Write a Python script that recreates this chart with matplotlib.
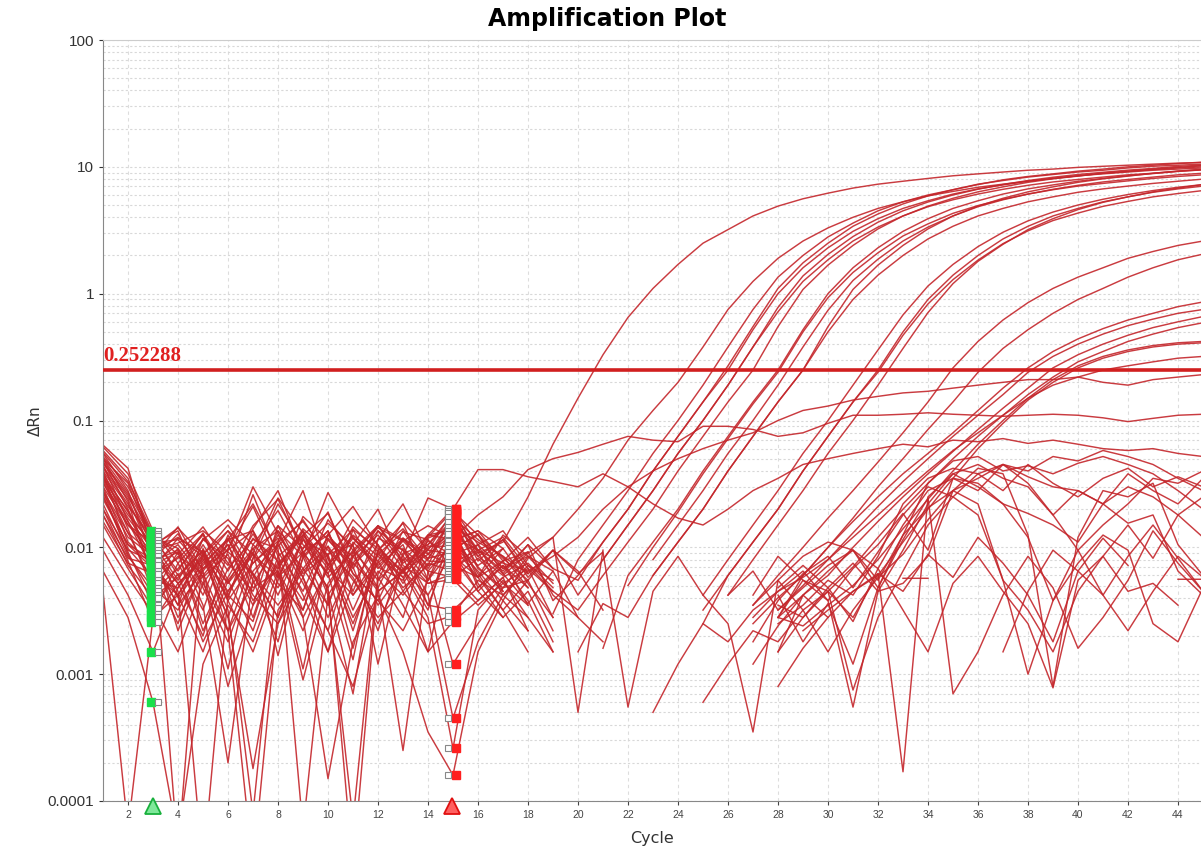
import matplotlib
matplotlib.use("Agg")
import matplotlib.pyplot as plt
from matplotlib.ticker import FixedLocator, LogLocator, NullFormatter

# dRn per well, cycles 1..45 (negative values are not drawn on the log axis)
cycles = list(range(1, 46))
threshold = 0.252288

w01 = [0.052, 0.03, 0.0125, 0.006, 0.0095, 0.004, 0.014, 0.028, 0.009, 0.0035, 0.011, 0.007, 0.0055, 0.012, 0.0195,
       0.009, 0.011, 0.025, 0.065,
       0.15, 0.33, 0.65, 1.1, 1.7, 2.5, 3.2, 4.1, 4.9, 5.6, 6.2, 6.8, 7.3, 7.7, 8.1, 8.5, 8.8, 9.1, 9.4, 9.6, 9.9, 10.1, 10.3, 10.5, 10.7, 10.8]
w02 = [0.04, 0.021, 0.0118, 0.0065, 0.013, 0.0042, 0.0026, 0.011, 0.016, 0.0085, 0.0016, 0.0095, 0.014, 0.008, 0.0178,
       0.0085, 0.006, 0.009, 0.012, 0.02,
       0.035, 0.07, 0.12, 0.2, 0.38, 0.75, 1.25, 1.9, 2.6, 3.3, 4.0, 4.7, 5.3, 5.9, 6.4, 6.9, 7.3, 7.7, 8.1, 8.5, 8.8, 9.1, 9.4, 9.6, 9.8]
w03 = [0.058, 0.035, 0.0112, 0.004, 0.0075, 0.0115, 0.006, 0.0028, 0.0125, 0.0185, 0.007, 0.0022, 0.009, 0.0105, 0.0165,
       0.007, 0.0045, -0.002, 0.003,
       0.008, 0.015, 0.028, 0.055, 0.1, 0.19, 0.38, 0.75, 1.35, 2.0, 2.8, 3.6, 4.5, 5.3, 6.0, 6.6, 7.3, 7.8, 8.3, 8.7, 9.1, 9.4, 9.8, 10.1, 10.3, 10.5]
w04 = [0.035, 0.018, 0.0105, 0.0135, 0.0048, 0.0018, 0.0065, 0.0105, 0.0042, 0.0015, 0.0085, 0.0125, 0.0068, 0.0032, 0.0155,
       0.0095, 0.0065, 0.0105, 0.0038,
       0.006, 0.011, 0.02, 0.04, 0.075, 0.14, 0.25, 0.52, 1.0, 1.6, 2.3, 3.1, 3.9, 4.7, 5.4, 6.1, 6.7, 7.2, 7.7, 8.1, 8.5, 8.9, 9.2, 9.5, 9.8, 10.0]
w05 = [0.047, 0.026, 0.0098, 0.0052, 0.002, 0.0095, 0.0135, 0.0062, 0.0022, 0.0072, 0.0165, 0.0105, 0.0045, 0.0082, 0.0148,
       0.011, 0.0085, 0.0062, 0.0095, 0.0042,
       0.008, 0.015, 0.028, 0.055, 0.1, 0.19, 0.38, 0.72, 1.25, 1.85, 2.6, 3.35, 4.1, 4.85, 5.5, 6.1, 6.65, 7.15, 7.6, 7.95, 8.3, 8.65, 8.9, 9.25, 9.45]
w06 = [0.064, 0.042, 0.0092, 0.012, 0.0085, 0.0045, 0.009, 0.0245, 0.013, 0.0058, 0.0092, 0.0035, 0.0065, 0.0125, 0.0138,
       0.0058, 0.0078, 0.012, 0.0068,
       0.0055, 0.011, 0.02, 0.04, 0.075, 0.14, 0.27, 0.55, 1.1, 1.75, 2.5, 3.4, 4.25, 5.1, 5.9, 6.6, 7.25, 7.9, 8.4, 8.8, 9.25, 9.6, 10.0, 10.3, 10.6, 10.9]
w07 = [0.028, 0.013, 0.0088, 0.0028, 0.006, 0.0105, 0.0038, 0.0075, 0.012, 0.0042, 0.00007, 0.0062, 0.0118, 0.0088, 0.0128,
       0.0062, 0.0032, 0.0055, -0.001, -0.002,
       0.008, 0.015, 0.028, 0.055, 0.1, 0.19, 0.38, 0.78, 1.38, 2.04, 2.82, 3.66, 4.5, 5.28, 6.0, 6.66, 7.26, 7.8, 8.28, 8.7, 9.06, 9.42, 9.72, 10.08, 10.3]
w08 = [0.043, 0.024, 0.0084, 0.0145, 0.0065, 0.0011, 0.0082, 0.0148, 0.0062, 0.0088, 0.0022, 0.0095, 0.0155, 0.0055, 0.0122,
       0.0095, 0.012, 0.0068, 0.0045, 0.0032,
       0.006, 0.011, 0.02, 0.04, 0.075, 0.14, 0.25, 0.55, 1.08, 1.68, 2.4, 3.24, 4.1, 4.9, 5.65, 6.35, 6.95, 7.55, 8.05, 8.45, 8.9, 9.25, 9.6, 9.9, 10.2]
w09 = [0.055, 0.028, 0.008, 0.0035, 0.0118, 0.0072, 0.026, 0.0085, 0.0032, 0.0115, 0.0068, 0.0148, 0.0078, 0.0125, 0.0115,
       0.0135, 0.0078, 0.0092, -0.003, -0.004, 0.0016,
       0.006, 0.011, 0.02, 0.04, 0.075, 0.14, 0.25, 0.52, 1.0, 1.6, 2.3, 3.1, 3.9, 4.7, 5.4, 6.1, 6.7, 7.2, 7.7, 8.1, 8.5, 8.85, 9.2, 9.5]
w10 = [0.032, 0.016, 0.0078, 0.0095, 0.0042, 0.0125, 0.0055, 0.0018, 0.0098, 0.0155, 0.0102, 0.0048, 0.00025, 0.0065, 0.0108,
       0.0072, 0.0098, 0.0052, 0.0028, -0.001, -0.002,
       0.005, 0.01, 0.019, 0.038, 0.072, 0.135, 0.24, 0.5, 0.93, 1.47, 2.1, 2.85, 3.55, 4.3, 4.95, 5.55, 6.1, 6.6, 7.05, 7.4, 7.75, 8.1, 8.4, 8.65]
w11 = [0.048, 0.02, 0.0075, 0.0105, 0.0058, 0.0088, 0.0028, 0.0112, 0.028, 0.0072, 0.0125, 0.0085, 0.0058, 0.0102, 0.0102,
       0.0058, 0.0125, 0.0085, 0.0065, -0.002, -0.003, -0.001,
       0.008, 0.015, 0.028, 0.055, 0.1, 0.19, 0.38, 0.74, 1.27, 1.87, 2.6, 3.35, 4.1, 4.85, 5.5, 6.1, 6.65, 7.15, 7.6, 7.95, 8.3, 8.65, 8.9]
w12 = [0.038, 0.011, 0.0072, 0.0042, 0.0015, 0.0055, 0.0098, 0.0042, 0.0115, 0.0062, 0.0013, 0.0118, 0.0095, 0.0042, 0.0095,
       0.0128, 0.0062, 0.0036, 0.0065, 0.0028, 0.0018, -0.002,
       0.006, 0.011, 0.02, 0.04, 0.075, 0.14, 0.25, 0.55, 1.08, 1.68, 2.4, 3.24, 4.1, 4.9, 5.65, 6.35, 6.95, 7.55, 8.05, 8.45, 8.9, 9.25, 9.6]
w13 = [0.025, 0.0105, 0.0068, 0.0118, 0.0092, 0.0032, 0.00008, 0.0068, 0.014, 0.0095, 0.0058, 0.0025, 0.0068, 0.0095, 0.0088,
       0.0105, 0.0045, -0.001, -0.002, 0.0015, 0.0036, 0.0028,
       0.006, 0.011, 0.02, 0.04, 0.075, 0.14, 0.25, 0.5, 0.9, 1.4, 2.0, 2.7, 3.4, 4.1, 4.7, 5.3, 5.8, 6.3, 6.7, 7.05, 7.4, 7.7, 8.0]
w14 = [0.045, 0.016, 0.0065, 0.0025, 0.0088, 0.015, 0.0075, 0.0118, 0.0052, 0.0022, 0.0092, 0.0142, 0.0112, 0.0072, 0.0082,
       0.0045, 0.0028, -0.001, -0.002, -0.003, -0.002, -0.002, -0.001, -0.001, 0.0042,
       0.008, 0.015, 0.028, 0.055, 0.1, 0.19, 0.36, 0.68, 1.15, 1.7, 2.35, 3.05, 3.75, 4.4, 5.0, 5.55, 6.05, 6.5, 6.9, 7.25]
w15 = [0.036, 0.0195, 0.0062, 0.0082, 0.0128, 0.0065, 0.0148, 0.024, 0.0092, 0.0125, 0.0075, 0.0048, 0.0118, 0.0078, 0.0076,
       0.0095, 0.0062, 0.0105, 0.0068, -0.002, -0.003, -0.001, -0.002, -0.001, 0.0032,
       0.006, 0.011, 0.02, 0.04, 0.075, 0.14, 0.25, 0.5, 0.9, 1.4, 2.0, 2.7, 3.4, 4.1, 4.7, 5.3, 5.8, 6.3, 6.7, 7.05]
w16 = [0.03, 0.0098, 0.0058, 0.0098, 0.0035, 0.0002, 0.0058, 0.0125, 0.0068, 0.0035, 0.0138, 0.0098, 0.0065, 0.0088, 0.0072,
       0.0058, 0.0098, -0.001, -0.003, -0.002, -0.001, -0.002, -0.002, -0.001, 0.0025,
       0.006, 0.011, 0.02, 0.04, 0.075, 0.14, 0.24, 0.47, 0.83, 1.29, 1.84, 2.48, 3.13, 3.77, 4.32, 4.88, 5.34, 5.8, 6.16, 6.5]
w17 = [0.05, 0.023, 0.0055, 0.0048, 0.0105, 0.0052, 0.0092, 0.0014, 0.0085, 0.0135, 0.0042, 0.0088, 0.0132, 0.0115, 0.0068,
       0.0092, 0.0042, 0.0072, 0.0055, -0.001, -0.002, -0.002, -0.001, -0.001, -0.001, 0.0042,
       0.008, 0.015, 0.028, 0.055, 0.1, 0.19, 0.37, 0.71, 1.2, 1.8, 2.45, 3.2, 3.9, 4.6, 5.25, 5.8, 6.35, 6.8, 7.25]
w18 = [0.033, 0.013, 0.0052, 0.0085, 0.0062, 0.0022, 0.0052, 0.0102, 0.0165, 0.0082, 0.0028, 0.0065, 0.0042, 0.0075, 0.0065,
       0.0105, 0.0068, 0.0085, -0.001, -0.002, -0.003, -0.003, -0.002, -0.001, -0.001, -0.001, 0.0035,
       0.006, 0.01, 0.017, 0.028, 0.047, 0.08, 0.14, 0.26, 0.42, 0.62, 0.85, 1.1, 1.35, 1.6, 1.9, 2.15, 2.4, 2.6]
w19 = [0.022, 0.0085, 0.0048, 0.0032, 0.0072, 0.0118, 0.0048, 0.0065, 0.0009, 0.0052, 0.0095, 0.0148, 0.0085, 0.0052, 0.0062,
       0.0038, 0.0058, 0.0075, 0.0048, -0.001, -0.002, -0.004, -0.003, -0.002, -0.001, -0.001, -0.001, 0.0028,
       0.006, 0.01, 0.017, 0.03, 0.05, 0.085, 0.14, 0.24, 0.37, 0.52, 0.7, 0.9, 1.1, 1.35, 1.6, 1.85, 2.05]
w20 = [0.04, 0.014, 0.0045, 0.0068, 0.0115, 0.0082, 0.0035, 0.0148, 0.0098, 0.019, 0.0062, 0.0038, 0.0098, 0.0065, 0.0058,
       0.0082, 0.0052, 0.0035, -0.001, -0.002, -0.003, -0.002, -0.001, -0.001, -0.001, -0.001, 0.0025,
       0.004, 0.006, 0.01, 0.016, 0.025, 0.038, 0.055, 0.08, 0.12, 0.18, 0.26, 0.35, 0.44, 0.53, 0.62, 0.7, 0.79, 0.86]
w21 = [0.028, 0.0088, 0.0042, 0.0092, 0.0022, 0.0058, 0.0128, 0.0058, 0.0092, 0.0048, 0.0105, 0.02, 0.0072, 0.0052, 0.0056,
       0.0035, 0.0052, 0.0068, 0.0028, -0.001, -0.002, -0.002, -0.001, -0.001, -0.001, -0.001, -0.001, 0.0032,
       0.005, 0.008, 0.013, 0.021, 0.033, 0.05, 0.075, 0.11, 0.16, 0.24, 0.32, 0.4, 0.48, 0.56, 0.63, 0.7, 0.75]
w22 = [0.018, 0.0072, 0.004, 0.0058, 0.0095, 0.0038, 0.0075, 0.0112, 0.0028, 0.0068, 0.0118, 0.0072, 0.0105, 0.0035, 0.0032,
       0.0048, 0.0072, 0.0038, 0.0015, -0.001, -0.002, -0.003, -0.002, -0.001, -0.001, -0.002, -0.001, 0.0028, 0.0042,
       0.006, 0.01, 0.016, 0.025, 0.038, 0.057, 0.085, 0.125, 0.18, 0.26, 0.33, 0.4, 0.47, 0.54, 0.6, 0.66]
w23 = [0.026, 0.0092, 0.0035, 0.0015, 0.0052, 0.0098, 0.021, 0.0075, 0.0038, 0.0102, 0.0055, 0.0028, 0.0045, 0.0025, 0.0029,
       0.0055, 0.0042, 0.0065, -0.001, -0.002, -0.002, -0.003, -0.002, -0.001, 0.0006, 0.0012, 0.0022, 0.0018, 0.0032, 0.0045,
       0.007, 0.012, 0.02, 0.032, 0.05, 0.075, 0.11, 0.16, 0.22, 0.29, 0.35, 0.42, 0.48, 0.54, 0.59]
w24 = [0.015, 0.0068, 0.0033, 0.0062, 0.0018, 0.0045, 0.0088, 0.0058, 0.0135, 0.0045, 0.0007, 0.0095, 0.0058, 0.0015, 0.0026,
       0.0038, 0.0058, 0.0022, -0.001, -0.002, -0.003, -0.002, -0.001, -0.001, -0.001, -0.002, -0.001, 0.0028, 0.0024, 0.0035,
       0.005, 0.008, 0.014, 0.024, 0.04, 0.065, 0.1, 0.15, 0.21, 0.27, 0.32, 0.36, 0.39, 0.41, 0.42]
w25 = [0.012, 0.0058, 0.003, 0.0075, 0.0125, 0.0055, 0.0022, 0.0085, 0.0125, 0.0068, 0.0042, 0.0075, 0.0118, 0.0065, 0.0012,
       0.0025, 0.0048, 0.0055, 0.0022, -0.001, -0.002, -0.002, -0.001, -0.001, -0.001, -0.002, -0.001, -0.001, 0.0022, 0.0032, 0.0045,
       0.006, 0.011, 0.02, 0.035, 0.06, 0.095, 0.145, 0.2, 0.26, 0.31, 0.35, 0.38, 0.4, 0.41]
w26 = [0.0045, 0.00006, 0.0028, 0.0042, 0.0088, 0.0135, 0.0062, 0.0035, 0.0068, 0.0118, 0.0085, 0.0045, 0.0065, 0.0042, 0.00045,
       0.0018, 0.0042, 0.0028, 0.0015, -0.001, -0.002, -0.001, 0.0005, 0.0012, 0.0025, 0.0018, 0.0032, 0.0045, 0.0058,
       0.008, 0.012, 0.018, 0.027, 0.04, 0.058, 0.08, 0.11, 0.15, 0.19, 0.22, 0.25, 0.27, 0.29, 0.31, 0.32]
w27 = [0.02, 0.0078, 0.0026, 0.0052, 0.0082, 0.0028, 0.0105, 0.0195, 0.0085, 0.0028, 0.0075, 0.0135, 0.0075, 0.0105, 0.0185,
       0.0095, 0.0075, 0.0065, 0.0085, 0.012, 0.02, 0.03, 0.04, 0.05, 0.06, 0.07, 0.08, 0.1, 0.12, 0.13,
       0.145, 0.155, 0.165, 0.17, 0.18, 0.19, 0.2, 0.21, 0.21, 0.22, 0.2, 0.19, 0.21, 0.22, 0.23]
w28 = [0.034, 0.015, 0.0108, 0.0055, 0.0115, 0.0165, 0.0105, 0.0068, 0.0135, 0.0072, 0.0122, 0.0068, 0.0112, 0.0148, 0.0118,
       0.018, 0.025, 0.041, 0.05, 0.056, 0.065, 0.075, 0.07, 0.068, 0.09, 0.09, 0.085, 0.075, 0.08, 0.095,
       0.11, 0.11, 0.112, 0.115, 0.112, 0.11, 0.108, 0.11, 0.112, 0.11, 0.105, 0.098, 0.104, 0.11, 0.112]
w29 = [0.05, 0.032, 0.0102, 0.0022, 0.0068, 0.0095, 0.03, 0.0128, 0.0058, 0.0165, 0.0095, 0.0055, 0.0085, 0.0245, 0.02,
       0.041, 0.041, 0.036, 0.033, 0.03, 0.038, 0.03, 0.022, 0.017, 0.015, 0.02, 0.028, 0.035, 0.045, 0.05,
       0.055, 0.06, 0.065, 0.062, 0.07, 0.068, 0.072, 0.066, 0.07, 0.065, 0.06, 0.058, 0.06, 0.055, 0.052]
w30 = [0.062, 0.038, 0.0135, 0.0075, 0.0032, 0.0115, 0.022, 0.0092, 0.0045, 0.0125, 0.021, 0.0102, 0.0062, 0.0125, 0.0202,
       0.0105, 0.0135, 0.0072, 0.0045, -0.002, -0.003, -0.004, -0.003, -0.002, -0.001, -0.001, -0.001, 0.0025, 0.0035, 0.0055,
       0.0042, 0.0085, 0.022, 0.035, 0.042, 0.038, 0.045, 0.036, 0.03, 0.028, 0.022, 0.03, 0.025, 0.018, 0.012]
w31 = [0.056, 0.033, 0.0128, 0.0088, 0.0145, 0.0075, 0.0045, 0.0135, 0.0085, 0.027, 0.0118, 0.0078, 0.0158, 0.0095, 0.0192,
       0.0125, 0.0068, 0.0092, 0.0042, 0.0028, -0.001, -0.002, -0.003, -0.002, -0.001, -0.001, -0.001, 0.0015, 0.0028, 0.0048,
       0.0026, 0.0068, 0.015, 0.028, 0.035, 0.032, 0.022, 0.012, 0.0038, 0.0095, 0.015, 0.022, 0.035, 0.032, 0.04]
w32 = [0.05, 0.027, 0.0122, 0.0098, 0.0052, 0.0022, 0.0082, 0.022, 0.0105, 0.0062, 0.0145, 0.0092, 0.0048, 0.0072, 0.0185,
       0.0078, 0.0115, 0.0058, 0.0095, 0.0065, 0.0032, -0.001, -0.002, -0.003, -0.002, -0.001, 0.0012, 0.0024, 0.0042, 0.0065,
       0.0095, 0.0055, 0.0125, 0.032, 0.048, 0.052, 0.04, 0.044, 0.038, 0.046, 0.052, 0.045, 0.038, 0.028, 0.02]
w33 = [0.046, 0.025, 0.0115, 0.00004, 0.0098, 0.0038, 0.0015, 0.0055, 0.0175, 0.0115, 0.0072, 0.0115, 0.022, 0.0088, 0.0172,
       0.0115, 0.0085, 0.0048, -0.001, -0.002, -0.003, -0.002, -0.001, -0.001, -0.001, -0.001, 0.0028, 0.0045, 0.0065, 0.0038,
       0.00055, 0.0045, 0.0095, 0.022, 0.038, 0.045, 0.035, 0.03, 0.018, 0.0095, 0.0042, 0.0085, 0.015, 0.0082, 0.0045]
w34 = [0.042, 0.022, 0.0108, 0.0115, 0.0068, 0.0105, 0.0042, 0.0025, 0.0082, 0.0135, 0.0045, 0.0135, 0.0095, 0.0055, 0.0158,
       0.0068, 0.0048, 0.0085, 0.0052, -0.001, -0.002, -0.003, -0.003, -0.002, -0.001, -0.001, -0.001, 0.0048, 0.0072, 0.0048,
       0.0075, 0.0045, 0.0052, 0.0085, 0.028, 0.042, 0.038, 0.0125, 0.0008, 0.012, 0.028, 0.025, 0.032, 0.0105, 0.006]
w35 = [0.038, 0.019, 0.0102, 0.0142, 0.0088, 0.0052, 0.0118, 0.0078, 0.0011, 0.0088, 0.0138, 0.0058, 0.0028, 0.0118, 0.0145,
       0.0048, 0.0078, 0.0035, -0.001, -0.002, -0.004, -0.005, -0.004, -0.003, -0.002, -0.002, -0.001, 0.0008, 0.0016, 0.0028,
       -0.001, -0.002, 0.0057, 0.0057, -0.001, -0.002, 0.0015, 0.0045, 0.0095, 0.0065, 0.0118, 0.0072, -0.001, 0.0056, 0.0056]
w36 = [0.035, 0.017, 0.0095, 0.0108, 0.0135, 0.0092, 0.0062, 0.0028, 0.0092, 0.0048, 0.00003, 0.0055, 0.0135, 0.0068, 0.0135,
       0.0085, 0.0115, 0.0062, -0.001, -0.002, -0.002, -0.001, -0.001, -0.001, -0.001, -0.001, 0.0018, 0.0038, 0.0062, 0.0085,
       0.0048, 0.0092, 0.018, 0.03, 0.025, 0.038, 0.028, 0.045, 0.032, 0.025, 0.035, 0.042, 0.03, 0.036, 0.03]
w37 = [0.03, 0.015, 0.009, 0.0045, 0.00003, 0.0042, 0.0098, 0.0135, 0.0058, 0.0015, 0.0052, 0.0105, 0.0052, 0.0098, 0.0128,
       0.0052, 0.0028, 0.0045, 0.0018, -0.001, -0.003, -0.004, -0.003, -0.002, -0.001, -0.001, -0.001, 0.0035, 0.0028, 0.0045,
       0.00075, 0.0028, 0.0065, 0.015, 0.025, 0.018, 0.0055, 0.0032, 0.0015, 0.0045, 0.0085, 0.015, 0.0082, 0.018, 0.025]
w38 = [0.027, 0.012, 0.0085, 0.0052, 0.0078, 0.0135, 0.0088, 0.0048, 0.0115, 0.0088, 0.0105, 0.0012, 0.0082, 0.0035, 0.0112,
       0.0135, 0.0098, -0.001, -0.002, -0.003, -0.003, -0.002, -0.001, -0.001, -0.001, -0.001, 0.0035, 0.0055, 0.0085, 0.011,
       0.0095, 0.0068, 0.0032, 0.0015, 0.0052, 0.0085, 0.0045, 0.0025, 0.00078, 0.0055, 0.0085, 0.0045, 0.0052, 0.0035, -0.001]
w39 = [0.024, 0.0105, 0.008, 0.0128, 0.0058, 0.0008, 0.0035, 0.0072, 0.0125, 0.0075, 0.0025, 0.0078, 0.0035, 0.0015, 0.0105,
       0.0065, 0.0038, 0.0082, 0.012, 0.0005, 0.0095, -0.001, -0.002, -0.002, -0.001, -0.001, -0.001, 0.0015, 0.0042, 0.0028,
       0.0045, 0.0062, 0.00017, 0.025, 0.038, 0.03, 0.022, 0.0185, 0.015, 0.011, 0.022, 0.0155, 0.018, 0.0065, 0.0042]
w40 = [0.02, 0.0095, 0.0078, 0.0035, 0.0065, 0.0115, 0.0135, 0.0052, 0.0032, 0.0128, 0.0062, 0.0038, 0.0022, 0.0055, 0.0098,
       0.0125, 0.0082, 0.0055, 0.0095, 0.0062, 0.0092, 0.00055, 0.0045, 0.0085, 0.0042, 0.0025, 0.00035, 0.0055, 0.0032, 0.0015,
       0.0032, 0.0058, 0.0088, 0.0165, 0.028, 0.022, 0.0055, 0.001, 0.0038, 0.0075, 0.0125, 0.0095, 0.0025, 0.0018, 0.0048]
w41 = [0.018, 0.0082, 0.0072, 0.0092, 0.0025, 0.0068, 0.0115, 0.0098, 0.00006, 0.0042, 0.0085, 0.0148, 0.0115, 0.0082, 0.0092,
       0.0045, 0.0072, 0.0048, -0.001, -0.002, -0.003, -0.003, -0.002, -0.001, -0.001, -0.001, -0.001, 0.0042, 0.0018, 0.0036,
       0.0012, 0.0048, 0.0115, 0.0245, 0.0007, 0.0015, 0.0042, 0.0085, 0.0048, 0.0016, 0.0028, 0.0055, 0.0135, 0.0075, 0.0045]
w42 = [0.016, 0.0075, 0.0062, 0.0042, 0.0095, 0.0022, 0.00003, 0.0032, 0.0065, 0.0102, 0.0032, 0.0088, 0.0065, 0.0112, 0.0086,
       0.0058, 0.0032, 0.0015, -0.001, -0.002, -0.002, -0.001, -0.001, -0.001, -0.001, 0.0042, 0.0065, 0.0032, 0.0048, 0.0072,
       0.0095, 0.0048, 0.0125, 0.0205, 0.028, 0.035, 0.045, 0.04, 0.052, 0.048, 0.058, 0.052, 0.045, 0.035, 0.028]
w43 = [0.0095, 0.0042, 0.0015, 0.0048, 0.0088, 0.0028, 0.00018, 0.0025, 0.0058, 0.0022, 0.0008, 0.0045, 0.0065, 0.0028, 0.00026,
       0.0032, 0.0055, 0.0028, -0.001, -0.002, -0.002, -0.001, -0.001, -0.001, -0.001, -0.001, 0.0042, 0.0085, 0.0055, 0.0038,
       0.0068, 0.0105, 0.0185, 0.0095, 0.035, 0.028, 0.045, 0.032, 0.018, 0.028, 0.022, 0.038, 0.028, 0.022, 0.035]
w44 = [0.0065, 0.0028, 0.0006, 0.00005, 0.0012, 0.0035, 0.0018, 0.0065, 0.0028, 0.00015, 0.0018, 0.0042, 0.0015, 0.00035, 0.00016,
       0.0015, 0.0038, 0.0022, -0.001, -0.002, -0.003, -0.002, -0.001, -0.001, -0.001, -0.001, -0.001, 0.0028, 0.0055, 0.0045,
       0.0028, 0.0062, 0.0045, 0.0088, 0.0058, 0.012, 0.0075, 0.0042, 0.0018, 0.0065, 0.0042, 0.0022, 0.0045, 0.0085, 0.0058]

wells = [w01, w02, w03, w04, w05, w06, w07, w08, w09, w10, w11, w12, w13, w14, w15,
         w16, w17, w18, w19, w20, w21, w22, w23, w24, w25, w26, w27, w28, w29, w30,
         w31, w32, w33, w34, w35, w36, w37, w38, w39, w40, w41, w42, w43, w44]

baseline_start = 3
baseline_end = 15

y_ticks = [0.0001, 0.001, 0.01, 0.1, 1, 10, 100]
y_labels = ["0.0001", "0.001", "0.01", "0.1", "1", "10", "100"]
x_ticks = list(range(2, 46, 2))

line_red = "#c4262b"

fig = plt.figure(figsize=(12.01, 8.49), dpi=100)
ax = fig.add_axes([103 / 1201, 1 - 801 / 849, 1 - 103 / 1201, (801 - 40) / 849])
ax.set_yscale("log", nonpositive="mask")

for w in wells:
    ax.plot(cycles, w, color=line_red, lw=1.05, alpha=0.9, zorder=2)

ax.axhline(threshold, color="#d11f1f", lw=2.6, zorder=3)
ax.text(1.02, threshold * 1.07, "0.252288", color="#e02020", fontsize=15,
        fontweight="bold", family="Liberation Serif", ha="left", va="bottom", zorder=4)

# baseline start / end markers
v3 = [w[baseline_start - 1] for w in wells]
v15 = [w[baseline_end - 1] for w in wells]
ax.plot([baseline_start - 0.08] * len(v3), v3, "s", ms=5.2, color="#19e04a", mec="#19e04a", zorder=5)
ax.plot([baseline_start + 0.2] * len(v3), v3, "s", ms=4.2, mfc="white", mec="#888888", mew=0.8, zorder=5)
ax.plot([baseline_end + 0.12] * len(v15), v15, "s", ms=5.2, color="#ff1e1e", mec="#ff1e1e", zorder=5)
ax.plot([baseline_end - 0.2] * len(v15), v15, "s", ms=4.2, mfc="white", mec="#888888", mew=0.8, zorder=5)
ax.plot([baseline_start], [0.0000905], "^", ms=11, mfc="#7fe89a", mec="#18b03c", mew=1.3, clip_on=False, zorder=6)
ax.plot([baseline_end - 0.05], [0.0000905], "^", ms=11, mfc="#ff6060", mec="#e01010", mew=1.3, clip_on=False, zorder=6)

ax.set_xlim(1, 44.92)
ax.set_ylim(0.0001, 100)
ax.xaxis.set_major_locator(FixedLocator(x_ticks))
ax.yaxis.set_major_locator(FixedLocator(y_ticks))
ax.set_yticklabels(y_labels)
ax.yaxis.set_minor_locator(LogLocator(base=10, subs=range(2, 10), numticks=20))
ax.yaxis.set_minor_formatter(NullFormatter())

ax.grid(True, which="major", axis="x", color="#dddddd", ls=(0, (3, 3)), lw=0.8)
ax.grid(True, which="both", axis="y", color="#d8d8d8", ls=(0, (2, 2)), lw=0.8)
ax.set_axisbelow(True)

ax.tick_params(axis="y", which="major", labelsize=11, colors="#333333", length=3, width=0.8)
ax.tick_params(axis="y", which="minor", length=0)
ax.tick_params(axis="x", labelsize=7.5, colors="#444444", length=3, width=0.8)
for lab in ax.get_xticklabels() + ax.get_yticklabels():
    lab.set_family("Liberation Sans")

ax.spines["right"].set_visible(False)
ax.spines["top"].set_color("#cccccc")
ax.spines["left"].set_color("#888888")
ax.spines["bottom"].set_color("#888888")

ax.set_xlabel("Cycle", fontsize=11.5, color="#333333", family="DejaVu Sans", labelpad=8)
ax.set_ylabel("ΔRn", fontsize=11, color="#333333", family="DejaVu Sans", labelpad=3)
fig.text(607 / 1201, 1 - 19 / 849, "Amplification Plot", ha="center", va="center",
         fontsize=17, fontweight="bold", family="DejaVu Sans")

plt.savefig("out.png", dpi=100)
